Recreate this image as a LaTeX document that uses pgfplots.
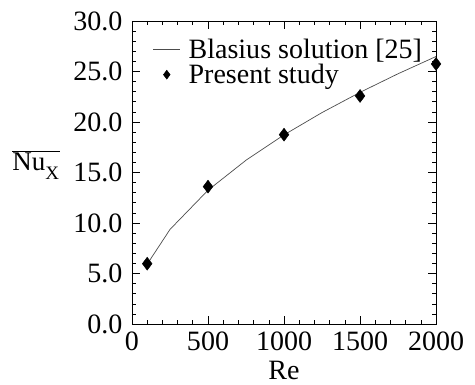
\documentclass[border=0pt]{standalone}
\usepackage{fontspec}
\setmainfont{Liberation Serif}
\usepackage{pgfplots}
\pgfplotsset{compat=1.18}
\pgfplotsset{
  mylinelegend/.style={legend image code/.code={\draw[##1] (0pt,0pt) -- (27pt,0pt);}},
  mymarklegend/.style={legend image code/.code={\draw[mark repeat=2, mark phase=2, ##1, mark size=4.5pt] plot coordinates {(0pt,0pt)(13.5pt,0pt)(27pt,0pt)};}},
}
\begin{document}
\begin{tikzpicture}
\begin{axis}[
  width=304pt, height=303pt, scale only axis, clip=false,
  xmin=0, xmax=2000, ymin=0, ymax=30,
  xtick={0,500,1000,1500,2000},
  ytick={0,5,10,15,20,25,30},
  minor x tick num=4, minor y tick num=4,
  tick align=inside, major tick length=8pt, minor tick length=4pt,
  xtick pos=both, ytick pos=both,
  tick style={black, line width=0.6pt},
  axis line style={line width=0.8pt},
  tick label style={font=\fontsize{28}{30}\selectfont},
  /pgf/number format/assume math mode=true,
  x tick label style={/tikz/inner ysep=1pt, /tikz/yshift=-7pt, /pgf/number format/1000 sep={}},
  y tick label style={/tikz/inner xsep=1pt, /tikz/xshift=-8.3pt,
    /pgf/number format/fixed, /pgf/number format/fixed zerofill, /pgf/number format/precision=1},
  xlabel={Re},
  xlabel style={font=\fontsize{28}{30}\selectfont, at={(axis description cs:0.5,-0.152)}, anchor=center},
  ylabel={$\overline{\hbox{\fontsize{27}{30}\selectfont Nu}_{\hbox{\fontsize{19}{20}\selectfont X}}}$},
  ylabel style={rotate=-90, at={(axis description cs:-0.316,0.525)}, anchor=center},
  legend style={draw=none, fill=none, at={(0.065,0.95)}, anchor=north west,
    font=\fontsize{28}{30}\selectfont, row sep=0pt, inner sep=1pt,
    /tikz/every odd column/.append style={column sep=6pt}},
  legend cell align=left,
]
\addplot[color=black!70, line width=0.7pt, mylinelegend]
  coordinates {(100,5.92)(250,9.36)(500,13.24)(750,16.21)(1000,18.72)(1250,20.93)(1500,22.93)(1750,24.77)(2000,26.48)};
\addlegendentry{Blasius solution [25]}
\addplot[only marks, mark=diamond*, mark size=6.5pt, black, mymarklegend]
  coordinates {(100,5.97)(500,13.6)(1000,18.74)(1500,22.57)(2000,25.74)};
\addlegendentry{Present study}
\path (rel axis cs:-0.434,-0.198) rectangle (rel axis cs:1.128,1.069);
\end{axis}
\end{tikzpicture}
\end{document}
